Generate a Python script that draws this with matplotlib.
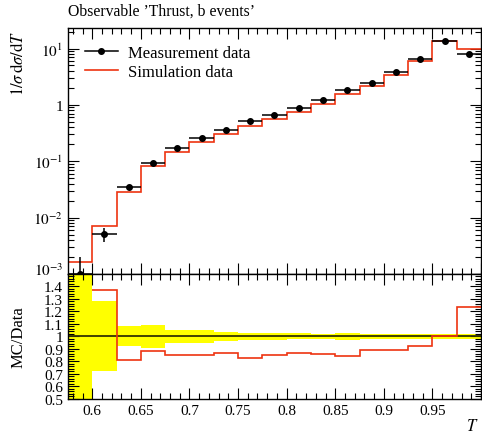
import matplotlib
matplotlib.use('Agg')
import matplotlib.pyplot as plt
from matplotlib.lines import Line2D
from matplotlib.transforms import ScaledTranslation
from matplotlib.ticker import MultipleLocator, LogLocator, FixedLocator, FuncFormatter, NullFormatter
import numpy as np

plt.rcParams['font.family'] = ['Liberation Serif', 'DejaVu Serif']
plt.rcParams['mathtext.fontset'] = 'stix'

# bin edges of T
edges = [0.575, 0.6, 0.625, 0.65, 0.675, 0.7, 0.725, 0.75, 0.775, 0.8,
         0.825, 0.85, 0.875, 0.9, 0.925, 0.95, 0.975, 1.0]
# measured values and relative errors
data = [0.0010, 0.0051, 0.0348, 0.092, 0.17, 0.256, 0.355, 0.51, 0.66,
        0.87, 1.21, 1.82, 2.43, 3.8, 6.5, 13.6, 7.9]
rel_err = [1.0, 0.28, 0.08, 0.093, 0.053, 0.053, 0.037, 0.03, 0.03,
           0.024, 0.022, 0.028, 0.019, 0.018, 0.017, 0.017, 0.02]
# simulation values
mc = [0.0016, 0.0070, 0.0283, 0.0815, 0.145, 0.218, 0.309, 0.423, 0.564,
      0.757, 1.04, 1.54, 2.16, 3.38, 5.98, 13.6, 9.76]

edges = np.array(edges)
data = np.array(data)
rel_err = np.array(rel_err)
mc = np.array(mc)
centers = 0.5 * (edges[1:] + edges[:-1])
halfw = 0.5 * (edges[1:] - edges[:-1])

red = '#ee3311'
fig = plt.figure(figsize=(4.82, 4.35), dpi=100)
ax = fig.add_axes([0.141, 0.368, 0.857, 0.565])
ax2 = fig.add_axes([0.141, 0.0805, 0.857, 0.2875], sharex=ax)

# main panel
ax.stairs(mc, edges, color=red, lw=1.2, baseline=None, zorder=2)
yerr = data * rel_err
ylo = np.minimum(yerr, data * 0.999)
ax.errorbar(centers, data, xerr=halfw, yerr=[ylo, yerr], fmt='o', color='k',
            ms=4, lw=1.1, capsize=0, zorder=3)
ax.set_yscale('log')
ax.set_ylim(1e-3, 23)
ax.set_xlim(0.575, 1.0)

def logfmt(v, pos):
    e = int(round(np.log10(v)))
    if e == 0:
        return '1'
    return r'$10^{%d}$' % e
ax.yaxis.set_major_locator(FixedLocator([1e-3, 1e-2, 1e-1, 1, 10]))
ax.yaxis.set_major_formatter(FuncFormatter(logfmt))
ax.yaxis.set_minor_locator(LogLocator(base=10, subs=np.arange(2, 10), numticks=20))
ax.yaxis.set_minor_formatter(NullFormatter())
ax.set_ylabel(r'$1/\sigma\,\mathrm{d}\sigma/\mathrm{d}T$', fontsize=12)
ax.yaxis.set_label_coords(-0.1, 0.86)
plt.setp(ax.get_xticklabels(), visible=False)

handles = [Line2D([], [], color='k', marker='o', ms=4, lw=1.1),
           Line2D([], [], color=red, lw=1.2)]
ax.legend(handles, ['Measurement data', 'Simulation data'],
          loc='upper left', frameon=False, fontsize=12,
          handlelength=2.0, handletextpad=0.6, borderaxespad=0.6,
          labelspacing=0.2, bbox_to_anchor=(0.0, 1.0))

ax.text(0.0, 1.04, 'Observable ’Thrust, b events’', transform=ax.transAxes,
        fontsize=11.3, ha='left', va='bottom')

# ratio panel
ax2.stairs(1 + rel_err, edges, baseline=1 - rel_err, fill=True,
           color='#ffff00', lw=0, zorder=1)
ax2.axhline(1.0, color='#333300', lw=1.3, zorder=2)
ratio = mc / data
ax2.stairs(ratio[1:], edges[1:], color=red, lw=1.2, baseline=None, zorder=3)
ax2.set_ylim(0.5, 1.5)
ax2.yaxis.set_major_locator(FixedLocator([0.5, 0.6, 0.7, 0.8, 0.9, 1.0, 1.1, 1.2, 1.3, 1.4]))
ax2.yaxis.set_major_formatter(FuncFormatter(lambda v, p: '%g' % v))
ax2.yaxis.set_minor_locator(MultipleLocator(0.02))
ax2.set_ylabel('MC/Data', fontsize=12)
ax2.yaxis.set_label_coords(-0.1, 0.5)
ax2.xaxis.set_major_locator(MultipleLocator(0.05))
ax2.xaxis.set_minor_locator(MultipleLocator(0.01))
ax2.xaxis.set_major_formatter(FuncFormatter(lambda v, p: '' if v > 0.99 else '%g' % round(v, 3)))
ax2.set_xlabel(r'$T$', fontsize=12)
ax2.xaxis.set_label_coords(0.995, -0.15)
ax2.xaxis.label.set_ha('right')

for a in (ax, ax2):
    a.tick_params(which='both', direction='in', top=True, right=True, labelsize=11)
    a.tick_params(which='major', length=8, width=0.8)
    a.tick_params(which='minor', length=4, width=0.8)
    for s in a.spines.values():
        s.set_linewidth(1.0)

# lift the lowest decade label a little, as in the original layout
fig.canvas.draw()
low = ax.yaxis.get_major_ticks()[0].label1
low.set_transform(low.get_transform() + ScaledTranslation(0, 4 / 72, fig.dpi_scale_trans))

fig.savefig('out.png', dpi=100)
